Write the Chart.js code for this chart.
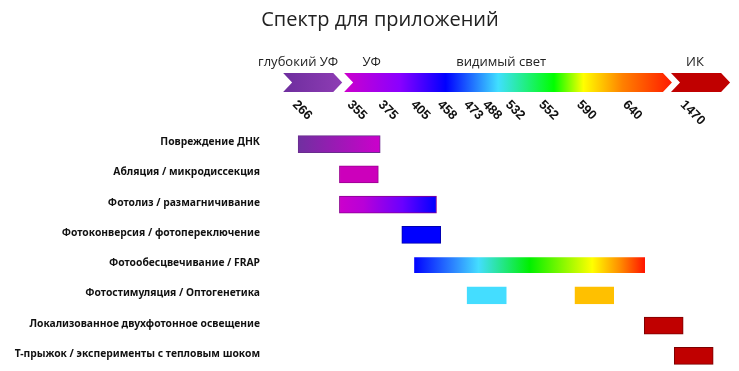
<!DOCTYPE html>
<html lang="ru">
<head>
  <meta charset="UTF-8" />
  <title>Спектр для приложений</title>
  <script src="https://cdn.jsdelivr.net/npm/chart.js"></script>
  <style>
    html, body {
      margin: 0;
      padding: 0;
      background-color: #fff;
    }
    canvas {
      display: block;
    }
  </style>
</head>
<body>
  <canvas id="spectrumChart" width="739" height="371"></canvas>

  <script>
    // rows of the chart, top to bottom
    const applications = [
      'Повреждение ДНК',
      'Абляция / микродиссекция',
      'Фотолиз / размагничивание',
      'Фотоконверсия / фотопереключение',
      'Фотообесцвечивание / FRAP',
      'Фотостимуляция / Оптогенетика',
      'Локализованное двухфотонное освещение',
      'Т-прыжок / эксперименты с тепловым шоком'
    ];

    // spans along the spectrum axis (0..100 along the arrow)
    const mainSpans = [[6.0, 23.5], [14.8, 23.1], [14.8, 35.5], [28.1, 36.4], [30.6, 80.1], [42.0, 50.4], [79.8, 88.1], [86.2, 94.5]];
    const extraSpans = [null, null, null, null, null, [65.0, 73.3], null, null];

    // wavelength marks (nm) and where they sit on the spectrum axis
    const wavelengths = ['266', '355', '375', '405', '458', '473', '488', '532', '552', '590', '640', '1470'];
    const wavelengthPos = [6.2, 17.9, 24.5, 31.4, 37.1, 42.7, 46.7, 51.6, 58.7, 66.8, 76.6, 88.9];

    // spectral bands above the arrows
    const bands = ['глубокий УФ', 'УФ', 'видимый свет', 'ИК'];
    const bandPos = [6.0, 21.7, 49.3, 90.6];
    const arrowSpans = [[2.8, 15.4], [15.8, 85.7], [85.5, 98.1]];

    const chartTitle = 'Спектр для приложений';

    const rainbow = [[0, '#0000FF'], [0.18, '#2E8BFF'], [0.28, '#44DDFF'], [0.5, '#00F000'], [0.77, '#FFFF00'], [0.89, '#FF8C00'], [1, '#FF1000']];
    const barFills = [
      [[0, '#7030A0'], [1, '#CC00CC']],
      [[0, '#CC00BB']],
      [[0, '#CC00CC'], [0.25, '#B800D8'], [0.65, '#6A00FF'], [1, '#0000FF']],
      [[0, '#0000FF']],
      rainbow,
      [[0, '#44DDFF']],
      [[0, '#C00000']],
      [[0, '#C00000']]
    ];
    const barBorders = ['#6A2C8E', '#9A0090', '#8A0090', '#0000B0', 'rgba(0,0,0,0)', '#44DDFF', '#7A0000', '#7A0000'];
    const arrowFills = [
      [[0, '#6E2E9E'], [1, '#8E3CB4']],
      [[0, '#CC00CC'], [0.17, '#8A00FF'], [0.31, '#0000FF'], [0.47, '#40DFFF'], [0.64, '#00FF00'], [0.73, '#FFFF00'], [0.85, '#FF8000'], [1, '#FF1A00']],
      [[0, '#C00000'], [1, '#C00000']]
    ];

    function gradientFill(ctx2d, x0, x1, stops) {
      if (stops.length === 1) return stops[0][1];
      const g = ctx2d.createLinearGradient(x0, 0, x1, 0);
      stops.forEach(s => g.addColorStop(s[0], s[1]));
      return g;
    }

    function barFill(context) {
      const chart = context.chart;
      const stops = barFills[context.dataIndex];
      const span = context.raw;
      if (!chart.chartArea || !span) return stops[0][1];
      const x = chart.scales.x;
      return gradientFill(chart.ctx, x.getPixelForValue(span[0]), x.getPixelForValue(span[1]), stops);
    }

    const spectrumHeader = {
      id: 'spectrumHeader',
      afterDraw(chart) {
        const ctx = chart.ctx;
        const x = chart.scales.x;
        const top = 73, bottom = 92, mid = (top + bottom) / 2, notch = 9;
        ctx.save();

        // title, centred over the spectrum
        ctx.fillStyle = '#222';
        ctx.font = '20px "Open Sans"';
        ctx.textAlign = 'center';
        ctx.textBaseline = 'middle';
        ctx.fillText(chartTitle, 380, 20);

        arrowSpans.forEach((span, i) => {
          const x0 = x.getPixelForValue(span[0]);
          const x1 = x.getPixelForValue(span[1]);
          ctx.beginPath();
          ctx.moveTo(x0, top);
          ctx.lineTo(x1 - notch, top);
          ctx.lineTo(x1, mid);
          ctx.lineTo(x1 - notch, bottom);
          ctx.lineTo(x0, bottom);
          ctx.lineTo(x0 + notch, mid);
          ctx.closePath();
          ctx.fillStyle = gradientFill(ctx, x0, x1, arrowFills[i]);
          ctx.fill();
        });

        ctx.fillStyle = '#222';
        ctx.font = '13px "Open Sans"';
        ctx.textAlign = 'center';
        ctx.textBaseline = 'alphabetic';
        bands.forEach((b, i) => ctx.fillText(b, x.getPixelForValue(bandPos[i]), 66));

        ctx.fillStyle = '#111';
        ctx.font = 'bold 13px "Liberation Sans"';
        ctx.textAlign = 'left';
        ctx.textBaseline = 'top';
        wavelengths.forEach((w, i) => {
          ctx.save();
          ctx.translate(x.getPixelForValue(wavelengthPos[i]), 98);
          ctx.rotate(Math.PI / 4);
          ctx.fillText(w, 0, 0);
          ctx.restore();
        });
        ctx.restore();
      }
    };

    new Chart(document.getElementById('spectrumChart'), {
      type: 'bar',
      data: {
        labels: applications,
        datasets: [
          {
            data: mainSpans,
            backgroundColor: barFill,
            borderColor: barBorders,
            borderWidth: 1,
            borderSkipped: false,
            barThickness: 17,
            grouped: false
          },
          {
            data: extraSpans,
            backgroundColor: '#FFC000',
            borderColor: '#FFC000',
            borderWidth: 1,
            borderSkipped: false,
            barThickness: 17,
            grouped: false
          }
        ]
      },
      options: {
        indexAxis: 'y',
        responsive: false,
        animation: false,
        layout: {
          padding: { left: 0, right: 0, top: 129, bottom: 0 }
        },
        scales: {
          x: {
            type: 'linear',
            min: 0,
            max: 100,
            display: false
          },
          y: {
            grid: { display: false, drawTicks: false },
            border: { display: false },
            ticks: {
              color: '#111',
              padding: 10,
              labelOffset: -2,
              font: { family: 'Noto Sans', weight: 'bold', size: 10.3 }
            },
            afterFit(scale) {
              scale.width = 270;
              // rows run right down to the bottom edge
              scale.paddingTop = 0;
              scale.paddingBottom = 0;
            }
          }
        },
        plugins: {
          legend: { display: false },
          tooltip: { enabled: false }
        }
      },
      plugins: [spectrumHeader]
    });
  </script>
</body>
</html>
